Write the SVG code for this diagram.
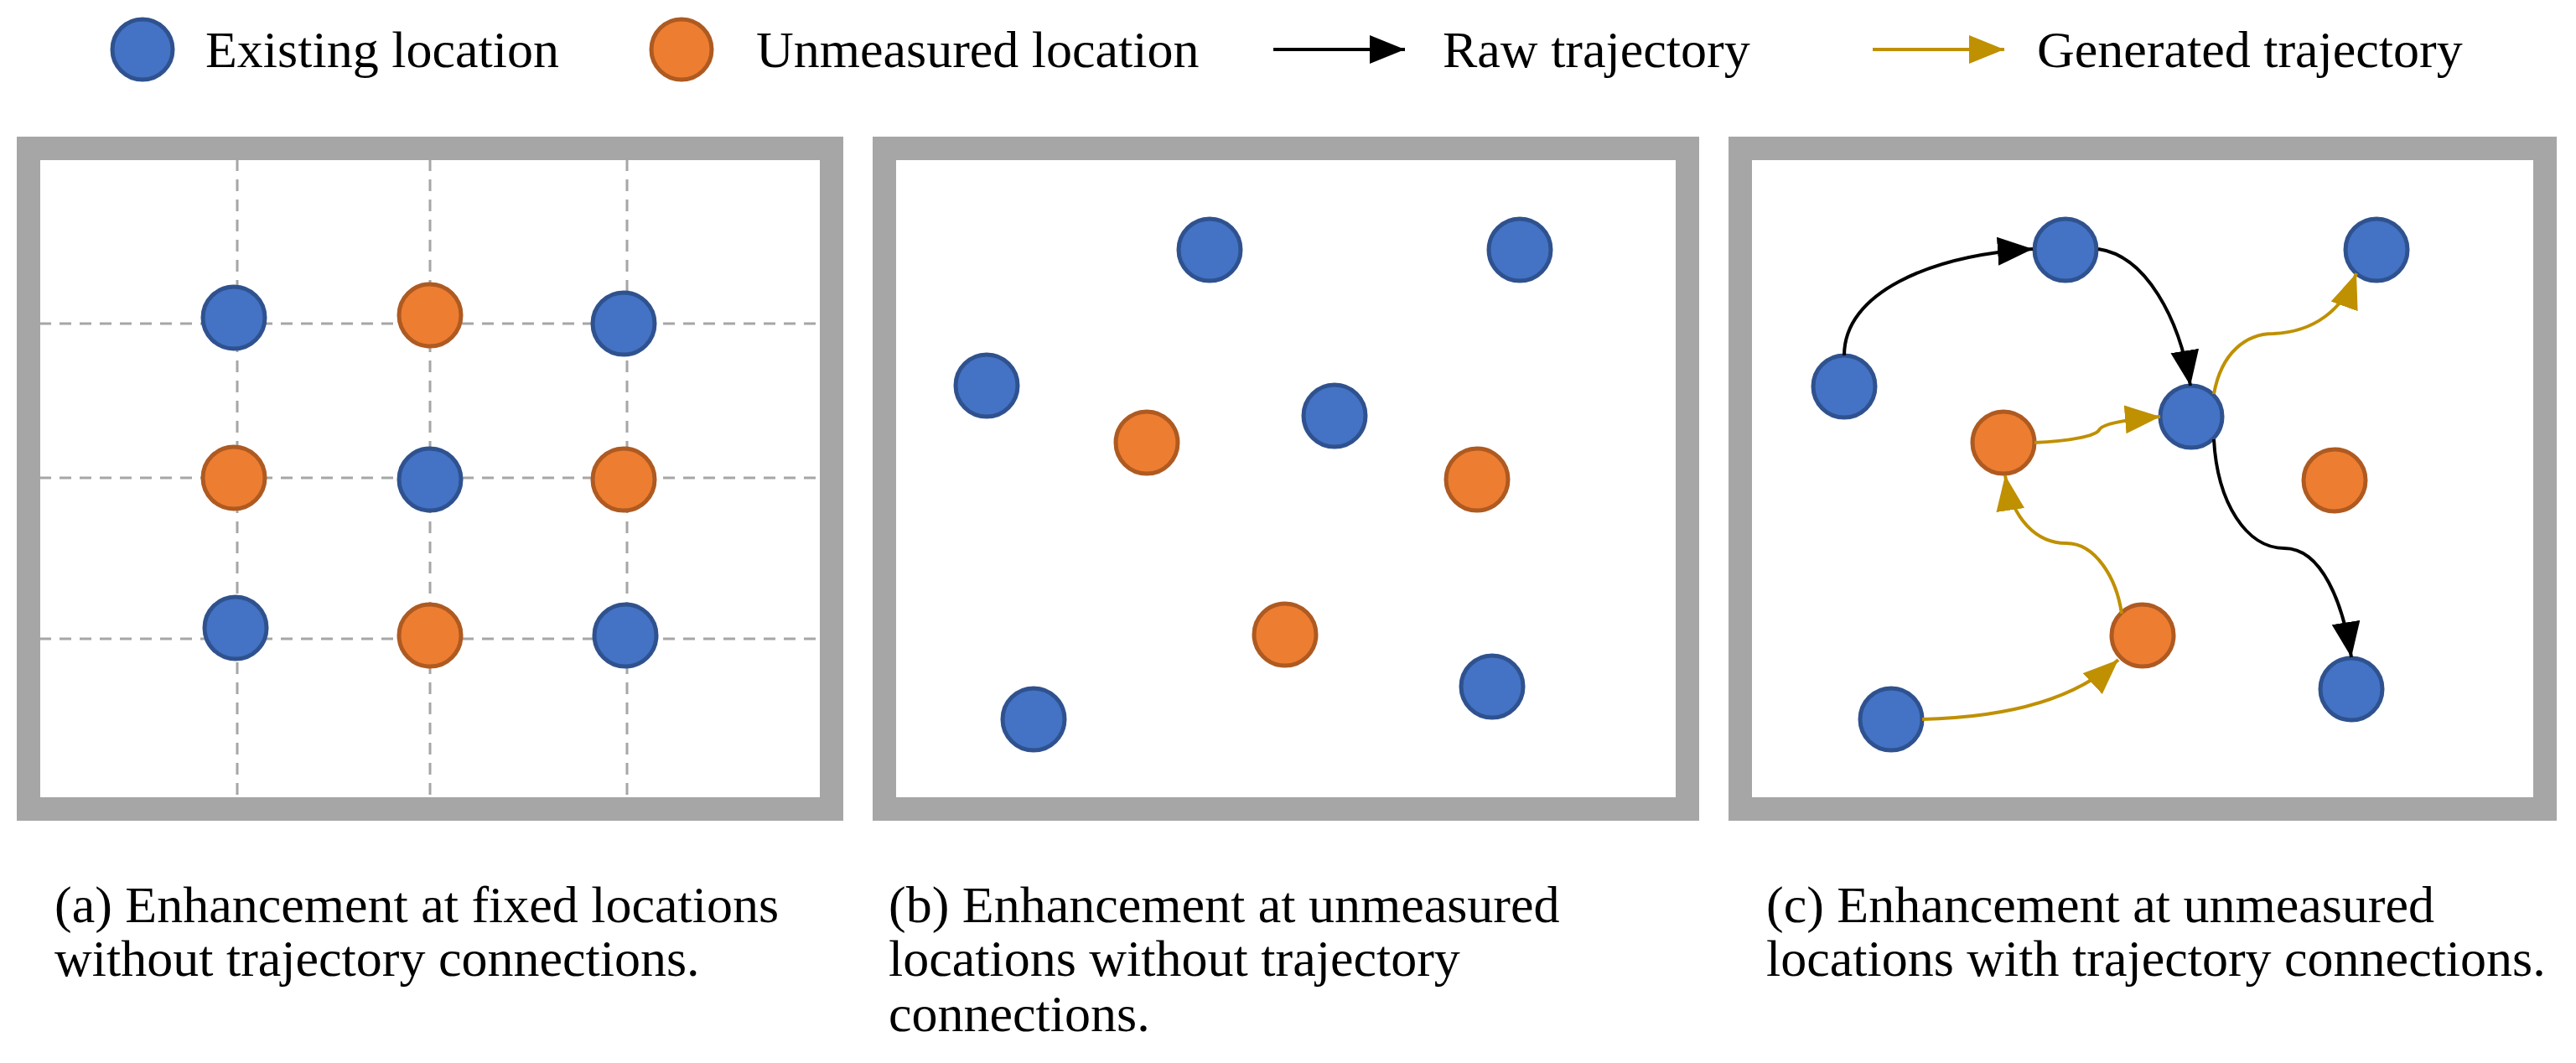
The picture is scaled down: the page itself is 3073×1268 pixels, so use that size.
<svg xmlns="http://www.w3.org/2000/svg" width="3073" height="1268" viewBox="0 0 3073 1268">
<style>
.b{fill:#4472C4;stroke:#2F528F;stroke-width:5}
.o{fill:#ED7D31;stroke:#AE5A21;stroke-width:5}
.t{font-family:"Liberation Serif",serif;font-size:62px;fill:#000}
.panel{fill:#fff;stroke:#A6A6A6;stroke-width:28}
.grid{stroke:#A6A6A6;stroke-width:3;stroke-dasharray:14,10;fill:none}
.raw{fill:none;stroke:#000;stroke-width:4}
.gen{fill:none;stroke:#BF9000;stroke-width:4}
</style>
<defs>
<marker id="ak" markerUnits="userSpaceOnUse" markerWidth="44" markerHeight="36" refX="42" refY="17" orient="auto"><path d="M0,0 L42,17 L0,34 z" fill="#000"/></marker>
<marker id="ag" markerUnits="userSpaceOnUse" markerWidth="44" markerHeight="36" refX="42" refY="17" orient="auto"><path d="M0,0 L42,17 L0,34 z" fill="#BF9000"/></marker>
</defs>
<rect width="3073" height="1268" fill="#fff"/>
<g id="legend">
<circle class="b" cx="170" cy="59" r="36"/><text class="t" x="245" y="80">Existing location</text>
<circle class="o" cx="813" cy="59" r="36"/><text class="t" x="902" y="80">Unmeasured location</text>
<line class="raw" x1="1519" y1="59" x2="1676" y2="59" marker-end="url(#ak)"/><text class="t" x="1721" y="80">Raw trajectory</text>
<line class="gen" x1="2234" y1="59" x2="2391" y2="59" marker-end="url(#ag)"/><text class="t" x="2430" y="80">Generated trajectory</text>
</g>
<g id="panel-a">
<rect class="panel" x="34" y="177" width="958" height="788"/>
<path class="grid" d="M283,190V951 M513,190V951 M748,190V951 M47,386H977 M47,570H977 M47,762H977"/>
<circle class="b" cx="279" cy="379" r="37"/><circle class="o" cx="513" cy="376" r="37"/><circle class="b" cx="744" cy="386" r="37"/>
<circle class="o" cx="279" cy="570" r="37"/><circle class="b" cx="513" cy="572" r="37"/><circle class="o" cx="744" cy="572" r="37"/>
<circle class="b" cx="281" cy="749" r="37"/><circle class="o" cx="513" cy="758" r="37"/><circle class="b" cx="746" cy="758" r="37"/>
<text class="t" x="65" y="1100">(a) Enhancement at fixed locations</text>
<text class="t" x="65" y="1164">without trajectory connections.</text>
</g>
<g id="panel-b">
<rect class="panel" x="1055" y="177" width="958" height="788"/>
<circle class="b" cx="1443" cy="298" r="37"/><circle class="b" cx="1813" cy="298" r="37"/>
<circle class="b" cx="1177" cy="460" r="37"/><circle class="b" cx="1592" cy="496" r="37"/>
<circle class="b" cx="1233" cy="858" r="37"/><circle class="b" cx="1780" cy="819" r="37"/>
<circle class="o" cx="1368" cy="528" r="37"/><circle class="o" cx="1762" cy="572" r="37"/><circle class="o" cx="1533" cy="757" r="37"/>
<text class="t" x="1060" y="1100">(b) Enhancement at unmeasured</text>
<text class="t" x="1060" y="1164">locations without trajectory</text>
<text class="t" x="1060" y="1230">connections.</text>
</g>
<g id="panel-c">
<rect class="panel" x="2076" y="177" width="960" height="788"/>
<circle class="b" cx="2464" cy="298" r="37"/><circle class="b" cx="2835" cy="298" r="37"/>
<circle class="b" cx="2200" cy="461" r="37"/><circle class="b" cx="2614" cy="497" r="37"/>
<circle class="b" cx="2256" cy="858" r="37"/><circle class="b" cx="2805" cy="822" r="37"/>
<circle class="o" cx="2390" cy="528" r="37"/><circle class="o" cx="2785" cy="573" r="37"/><circle class="o" cx="2556" cy="758" r="37"/>
<text class="t" x="2107" y="1100">(c) Enhancement at unmeasured</text>
<text class="t" x="2107" y="1164">locations with trajectory connections.</text>
</g>
<g id="connectors">
<path class="raw" d="M2200,424 C2200,350 2300,305 2425,297" marker-end="url(#ak)"/>
<path class="raw" d="M2503,297 C2560,305 2600,380 2613,460" marker-end="url(#ak)"/>
<path class="raw" d="M2641,524 C2645,600 2680,654 2725,654 C2770,654 2795,720 2805,784" marker-end="url(#ak)"/>
<path class="gen" d="M2641,470 C2650,420 2680,398 2712,398 C2760,396 2795,370 2811,326" marker-end="url(#ag)"/>
<path class="gen" d="M2427,528 C2470,526 2500,520 2504,513 C2508,505 2540,500 2577,497" marker-end="url(#ag)"/>
<path class="gen" d="M2531,732 C2525,690 2500,648 2465,648 C2430,648 2400,620 2392,567" marker-end="url(#ag)"/>
<path class="gen" d="M2293,858 C2380,856 2470,840 2527,787" marker-end="url(#ag)"/>
</g>
</svg>
